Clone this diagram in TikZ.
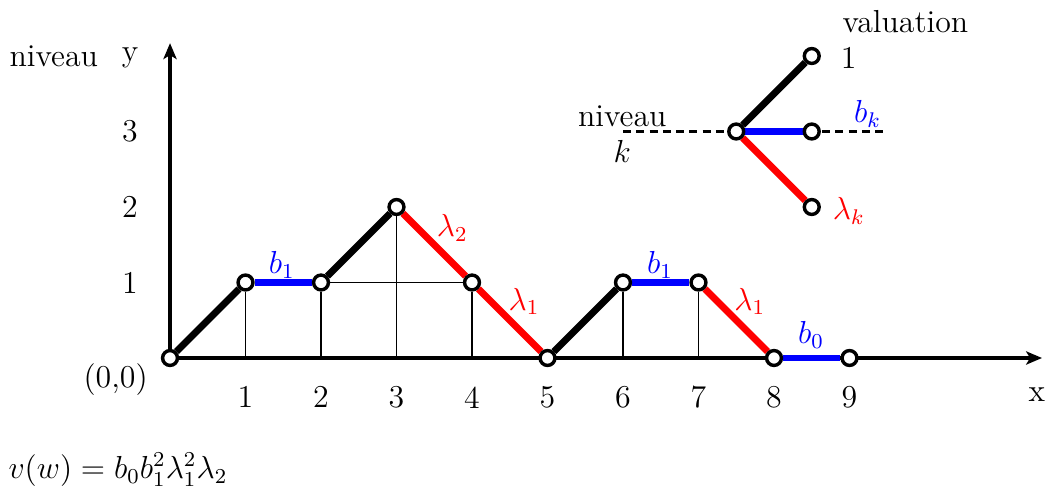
\documentclass[tikz,border=0pt]{standalone}
\usetikzlibrary{arrows.meta,backgrounds}
\begin{document}
\begin{tikzpicture}[x=1cm,y=1cm,font=\large,
  pt/.style={circle,draw,fill=white,line width=1.3pt,inner sep=0pt,minimum size=5.6pt},
  upseg/.style={line width=2.6pt,black},
  flatseg/.style={line width=2.6pt,blue},
  downseg/.style={line width=2.6pt,red},
  guide/.style={line width=0.6pt},
  axisline/.style={line width=1.2pt,-{Stealth[length=6pt,width=5pt,inset=1.5pt]}},
  levelline/.style={line width=0.9pt,dash pattern=on 3pt off 2pt},
  lbl/.style={inner sep=0pt}]
\useasboundingbox (-2.252,-1.775) rectangle (11.709,4.742);
% axes ends
\coordinate (O) at (0,0);
\coordinate (xend) at (11.55,0);
\coordinate (yend) at (0,4.17);
% path vertices
\node[pt] (p0) at (0,0) {};
\node[pt] (p1) at (1,1) {};
\node[pt] (p2) at (2,1) {};
\node[pt] (p3) at (3,2) {};
\node[pt] (p4) at (4,1) {};
\node[pt] (p5) at (5,0) {};
\node[pt] (p6) at (6,1) {};
\node[pt] (p7) at (7,1) {};
\node[pt] (p8) at (8,0) {};
\node[pt] (p9) at (9,0) {};
% feet on the axis
\coordinate (f1) at (1,0);
\coordinate (f2) at (2,0);
\coordinate (f3) at (3,0);
\coordinate (f4) at (4,0);
\coordinate (f6) at (6,0);
\coordinate (f7) at (7,0);
% inset
\node[pt] (c) at (7.5,3) {};
\node[pt] (u) at (8.5,4) {};
\node[pt] (r) at (8.5,3) {};
\node[pt] (d) at (8.5,2) {};
\coordinate (dl) at (6,3);
\coordinate (dr) at (9.5,3);
\begin{scope}[on background layer]
  \draw[axisline] (O) -- (xend);
  \draw[axisline] (O) -- (yend);
  \draw[guide] (f1) -- (p1);
  \draw[guide] (f2) -- (p2);
  \draw[guide] (f3) -- (p3);
  \draw[guide] (f4) -- (p4);
  \draw[guide] (f6) -- (p6);
  \draw[guide] (f7) -- (p7);
  \draw[guide] (p2) -- (p4);
  \draw[upseg] (p0) -- (p1);
  \draw[flatseg] (p1) -- (p2);
  \draw[upseg] (p2) -- (p3);
  \draw[downseg] (p3) -- (p4);
  \draw[downseg] (p4) -- (p5);
  \draw[upseg] (p5) -- (p6);
  \draw[flatseg] (p6) -- (p7);
  \draw[downseg] (p7) -- (p8);
  \draw[flatseg] (p8) -- (p9);
  \draw[levelline] (dl) -- (dr);
  \draw[upseg] (c) -- (u);
  \draw[flatseg] (c) -- (r);
  \draw[downseg] (c) -- (d);
\end{scope}
% axis labels
\node[lbl] (ny) at (-1.54,3.99) {niveau};
\node[lbl] (ly) at (-0.53,3.97) {y};
\node[lbl] (lx) at (11.48,-0.49) {x};
\node[lbl] (lo) at (-0.72,-0.29) {(0,0)};
\node[lbl] (y1) at (-0.53,1) {1};
\node[lbl] (y2) at (-0.53,2) {2};
\node[lbl] (y3) at (-0.53,3) {3};
\node[lbl] (x1) at (1,-0.52) {1};
\node[lbl] (x2) at (2,-0.52) {2};
\node[lbl] (x3) at (3,-0.52) {3};
\node[lbl] (x4) at (4,-0.52) {4};
\node[lbl] (x5) at (5,-0.52) {5};
\node[lbl] (x6) at (6,-0.52) {6};
\node[lbl] (x7) at (7,-0.52) {7};
\node[lbl] (x8) at (8,-0.52) {8};
\node[lbl] (x9) at (9,-0.52) {9};
% step labels
\node[lbl,text=blue] (lb1) at (1.48,1.23) {$b_1$};
\node[lbl,text=red] (ll2) at (3.74,1.72) {$\lambda_2$};
\node[lbl,text=red] (ll1) at (4.69,0.75) {$\lambda_1$};
\node[lbl,text=blue] (lb1b) at (6.49,1.23) {$b_1$};
\node[lbl,text=red] (ll1b) at (7.68,0.75) {$\lambda_1$};
\node[lbl,text=blue] (lb0) at (8.49,0.31) {$b_0$};
% inset labels
\node[lbl] (nk) at (5.99,3.20) {niveau};
\node[lbl] (kk) at (5.99,2.74) {$k$};
\node[lbl] (val) at (9.74,4.46) {valuation};
\node[lbl] (v1) at (8.99,3.97) {1};
\node[lbl,text=blue] (vb) at (9.24,3.23) {$b_k$};
\node[lbl,text=red] (vl) at (8.99,1.95) {$\lambda_k$};
% formula
\node[lbl,anchor=west] (form) at (-2.146,-1.48) {$v(w)=b_0b_1^2\lambda_1^2\lambda_2$};
\end{tikzpicture}
\end{document}
